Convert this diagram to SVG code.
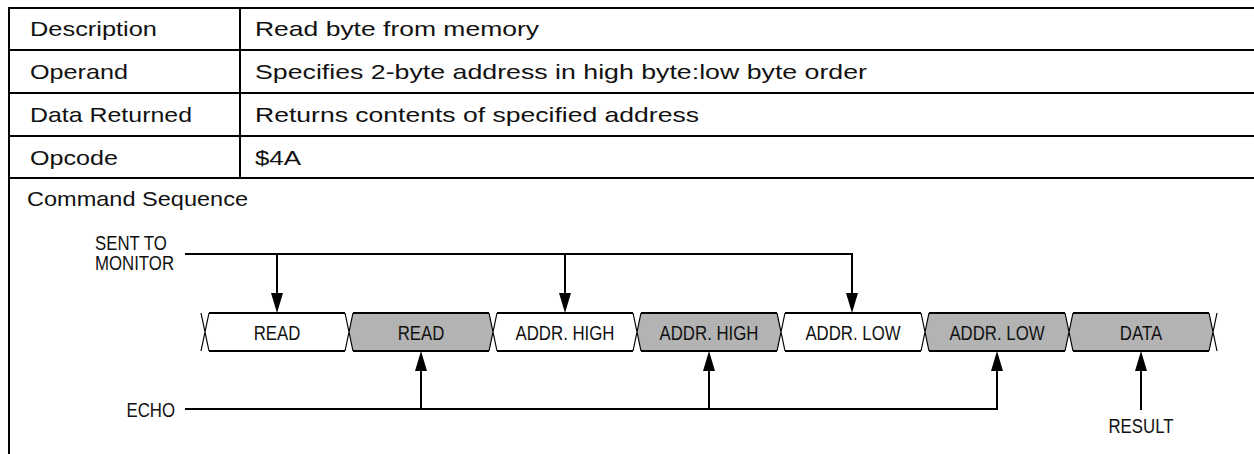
<svg xmlns="http://www.w3.org/2000/svg" width="1254" height="454" viewBox="0 0 1254 454">
<style>
.bg{fill:#ffffff}
.rule{stroke:#000;stroke-width:2;fill:none}
.tt{font-family:"Liberation Sans",Arial,sans-serif;font-size:21px;fill:#111}
.dt{font-family:"Liberation Sans",Arial,sans-serif;font-size:20.5px;fill:#111}
.mid{text-anchor:middle}
.sent{fill:#ffffff}
.echo{fill:#b3b3b3}
.edge{stroke:#000;stroke-width:2;fill:none}
.xing{stroke:#000;stroke-width:1.2;fill:none}
.wire{stroke:#000;stroke-width:2;fill:none;marker-end:url(#ah)}
.plain{stroke:#000;stroke-width:2;fill:none}
</style>
<defs>
<marker id="ah" markerUnits="userSpaceOnUse" markerWidth="20" markerHeight="12" viewBox="0 0 20 12" refX="10" refY="6" orient="auto">
<path d="M0,0 L20,6 L0,12 z" fill="#000"/>
</marker>
</defs>
<rect class="bg" x="0" y="0" width="1254" height="454"/>
<g id="table">
<path class="rule" d="M9,8 H1254 M9,50 H1254 M9,93 H1254 M9,136 H1254 M9,178 H1254 M9,7 V454 M240,8 V178"/>
</g>
<g id="row-description">
<text class="tt" x="30" y="36" textLength="127" lengthAdjust="spacingAndGlyphs">Description</text>
<text class="tt" x="255" y="36" textLength="284" lengthAdjust="spacingAndGlyphs">Read byte from memory</text>
</g>
<g id="row-operand">
<text class="tt" x="30" y="79" textLength="98" lengthAdjust="spacingAndGlyphs">Operand</text>
<text class="tt" x="255" y="79" textLength="612" lengthAdjust="spacingAndGlyphs">Specifies 2-byte address in high byte:low byte order</text>
</g>
<g id="row-data-returned">
<text class="tt" x="30" y="122" textLength="162" lengthAdjust="spacingAndGlyphs">Data Returned</text>
<text class="tt" x="255" y="122" textLength="444" lengthAdjust="spacingAndGlyphs">Returns contents of specified address</text>
</g>
<g id="row-opcode">
<text class="tt" x="30" y="165" textLength="88" lengthAdjust="spacingAndGlyphs">Opcode</text>
<text class="tt" x="255" y="165" textLength="46" lengthAdjust="spacingAndGlyphs">$4A</text>
</g>
<g id="command-sequence">
<text class="tt" x="27" y="206" textLength="221" lengthAdjust="spacingAndGlyphs">Command Sequence</text>
</g>
<g id="label-sent">
<text class="dt" transform="translate(95 250) scale(0.82 1)"><tspan x="0" y="0">SENT TO</tspan><tspan x="0" y="20">MONITOR</tspan></text>
</g>
<g id="label-echo">
<text class="dt" transform="translate(175 417) scale(0.82 1)" text-anchor="end">ECHO</text>
</g>
<g id="label-result">
<text class="dt mid" transform="translate(1141 433) scale(0.82 1)">RESULT</text>
</g>
<g id="box-read-sent">
<polygon class="sent" points="205,332 209,313 345,313 349,332 345,351 209,351"/>
<path class="edge" d="M209,313 H345 M209,351 H345"/>
<text class="dt mid" transform="translate(277 340) scale(0.82 1)">READ</text>
</g>
<g id="box-read-echo">
<polygon class="echo" points="349,332 353,313 489,313 493,332 489,351 353,351"/>
<path class="edge" d="M353,313 H489 M353,351 H489"/>
<text class="dt mid" transform="translate(421 340) scale(0.82 1)">READ</text>
</g>
<g id="box-addrhigh-sent">
<polygon class="sent" points="493,332 497,313 633,313 637,332 633,351 497,351"/>
<path class="edge" d="M497,313 H633 M497,351 H633"/>
<text class="dt mid" transform="translate(565 340) scale(0.82 1)">ADDR. HIGH</text>
</g>
<g id="box-addrhigh-echo">
<polygon class="echo" points="637,332 641,313 777,313 781,332 777,351 641,351"/>
<path class="edge" d="M641,313 H777 M641,351 H777"/>
<text class="dt mid" transform="translate(709 340) scale(0.82 1)">ADDR. HIGH</text>
</g>
<g id="box-addrlow-sent">
<polygon class="sent" points="781,332 785,313 921,313 925,332 921,351 785,351"/>
<path class="edge" d="M785,313 H921 M785,351 H921"/>
<text class="dt mid" transform="translate(853 340) scale(0.82 1)">ADDR. LOW</text>
</g>
<g id="box-addrlow-echo">
<polygon class="echo" points="925,332 929,313 1065,313 1069,332 1065,351 929,351"/>
<path class="edge" d="M929,313 H1065 M929,351 H1065"/>
<text class="dt mid" transform="translate(997 340) scale(0.82 1)">ADDR. LOW</text>
</g>
<g id="box-data">
<polygon class="echo" points="1069,332 1073,313 1209,313 1213,332 1209,351 1073,351"/>
<path class="edge" d="M1073,313 H1209 M1073,351 H1209"/>
<text class="dt mid" transform="translate(1141 340) scale(0.82 1)">DATA</text>
</g>
<g id="transitions">
<path class="xing" d="M201,313 L209,351 M209,313 L201,351 M345,313 L353,351 M353,313 L345,351 M489,313 L497,351 M497,313 L489,351 M633,313 L641,351 M641,313 L633,351 M777,313 L785,351 M785,313 L777,351 M921,313 L929,351 M929,313 L921,351 M1065,313 L1073,351 M1073,313 L1065,351 M1209,313 L1217,351 M1217,313 L1209,351"/>
</g>
<g id="connectors">
<path class="plain" d="M185,254 H852 V303"/>
<path class="wire" d="M852,280 V303"/>
<path class="wire" d="M277,254 V303"/>
<path class="wire" d="M565,254 V303"/>
<path class="plain" d="M185,409 H997 V361"/>
<path class="wire" d="M997,380 V361"/>
<path class="wire" d="M421,409 V361"/>
<path class="wire" d="M709,409 V361"/>
<path class="wire" d="M1141,410 V361"/>
</g>
</svg>
